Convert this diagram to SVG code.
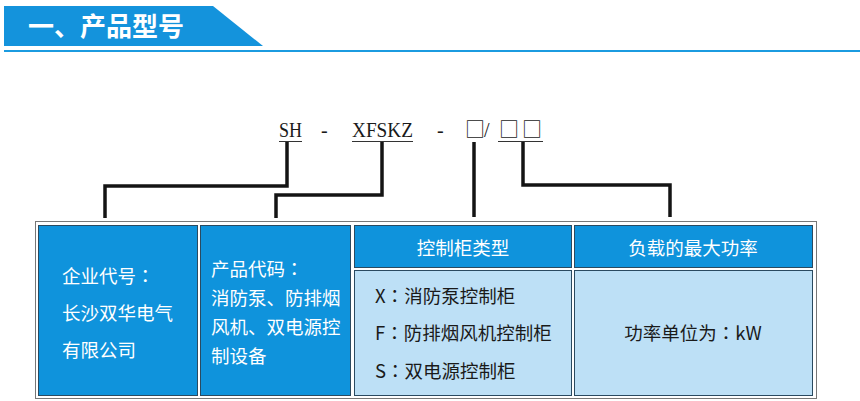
<svg xmlns="http://www.w3.org/2000/svg" width="860" height="401" viewBox="0 0 860 401">
<style>
.cjk{font-family:"Noto Sans CJK SC","Noto Sans",sans-serif;}
.jp{font-family:"Noto Sans CJK JP","Noto Sans CJK SC",sans-serif;}
.w{fill:#ffffff;font-size:18.5px;}
.d{fill:#1a1a1a;font-size:18.5px;}
.blue{fill:#0f93dc;stroke:#2a4a60;stroke-width:1;}
.light{fill:#bde0f6;stroke:#2a4a60;stroke-width:1;}
.code{font-family:"Liberation Serif","DejaVu Serif",serif;font-size:20px;fill:#1a1a1a;}
.sq{font-family:"Noto Sans CJK SC","DejaVu Sans",sans-serif;font-size:20px;fill:#1a1a1a;}
.ul{stroke:#333;stroke-width:1;}
.conn{fill:none;stroke:#141414;stroke-width:3.5;stroke-linejoin:miter;stroke-linecap:butt;}
</style>
<rect width="860" height="401" fill="#ffffff"/>
<g id="header">
<polygon points="4,6 213,6 263,46 4,46" fill="#1493dc"/>
<rect x="4" y="50" width="856" height="2" fill="#1b9be0"/>
<text x="28" y="36" class="cjk" font-size="26" font-weight="700" fill="#ffffff">一、产品型号</text>
</g>
<g id="model-code">
<text x="279" y="137" class="code" textLength="23" lengthAdjust="spacingAndGlyphs">SH</text>
<text x="321" y="137" class="code">-</text>
<text x="352" y="137" class="code" textLength="61" lengthAdjust="spacingAndGlyphs">XFSKZ</text>
<text x="437" y="137" class="code">-</text>
<text x="465" y="137" class="sq">□</text>
<text x="484" y="137" class="code">/</text>
<text x="499" y="137" class="sq">□</text>
<text x="522" y="137" class="sq">□</text>
<line x1="279" y1="141.5" x2="302" y2="141.5" class="ul"/>
<line x1="352" y1="141.5" x2="413" y2="141.5" class="ul"/>
<line x1="498" y1="141.5" x2="543" y2="141.5" class="ul"/>
</g>
<g id="connectors">
<polyline class="conn" points="287,142 287,186 105,186 105,218"/>
<polyline class="conn" points="382,142 382,195 276,195 276,218"/>
<polyline class="conn" points="474,142 474,217"/>
<polyline class="conn" points="523,142 523,185 670,185 670,217"/>
</g>
<g id="frame">
<rect x="35.5" y="221.5" width="781" height="177" fill="none" stroke="#777" stroke-width="1"/>
</g>
<g id="node-company">
<rect x="38.5" y="225.5" width="159" height="170" class="blue"/>
<text class="cjk w" x="62" y="283">企业代号<tspan class="jp">：</tspan></text>
<text class="cjk w" x="62" y="320">长沙双华电气</text>
<text class="cjk w" x="62" y="357">有限公司</text>
</g>
<g id="node-product">
<rect x="200.5" y="225.5" width="150" height="170" class="blue"/>
<text class="cjk w" x="211" y="276">产品代码<tspan class="jp">：</tspan></text>
<text class="cjk w" x="211" y="305">消防泵、防排烟</text>
<text class="cjk w" x="211" y="334">风机、双电源控</text>
<text class="cjk w" x="211" y="363">制设备</text>
</g>
<g id="node-type">
<rect x="354.5" y="225.5" width="217" height="42" class="blue"/>
<text class="cjk w" x="463" y="255" text-anchor="middle">控制柜类型</text>
<rect x="354.5" y="270.5" width="217" height="125" class="light"/>
<text class="cjk d" x="375" y="303">X<tspan class="jp">：</tspan>消防泵控制柜</text>
<text class="cjk d" x="375" y="340">F<tspan class="jp">：</tspan>防排烟风机控制柜</text>
<text class="cjk d" x="375" y="378">S<tspan class="jp">：</tspan>双电源控制柜</text>
</g>
<g id="node-power">
<rect x="574.5" y="225.5" width="238" height="42" class="blue"/>
<text class="cjk w" x="693" y="255" text-anchor="middle">负载的最大功率</text>
<rect x="574.5" y="270.5" width="238" height="125" class="light"/>
<text class="cjk d" x="693" y="340" text-anchor="middle">功率单位为<tspan class="jp">：</tspan>kW</text>
</g>
</svg>
